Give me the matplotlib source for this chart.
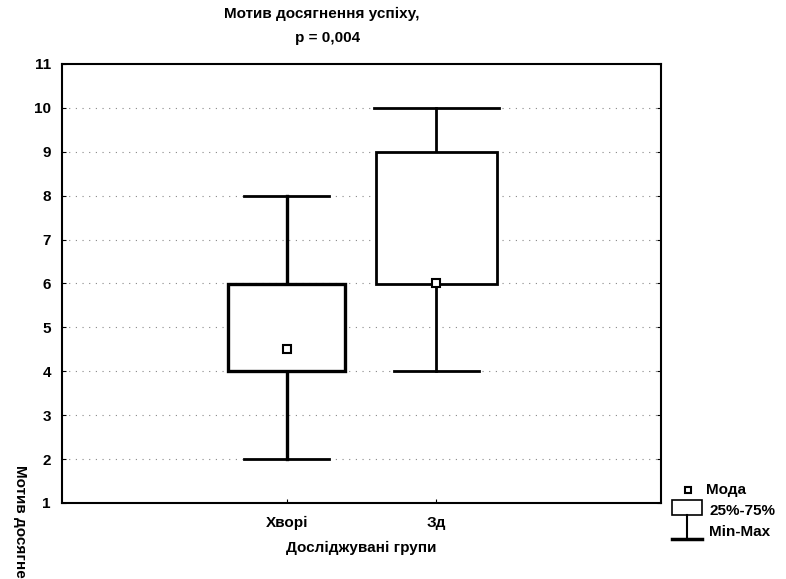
import matplotlib
matplotlib.use('Agg')
import matplotlib.pyplot as plt
from matplotlib.lines import Line2D
from matplotlib.patches import Rectangle

plt.rcParams['font.family'] = ['Liberation Sans', 'DejaVu Sans']
plt.rcParams['font.weight'] = 'bold'

GROUPS = ['Хворі', 'Зд']
MINS = [2, 4]
Q1 = [4, 6]
Q3 = [6, 9]
MAXS = [8, 10]
MODES = [4.5, 6]
YTICKS = list(range(1, 12))

W, H = 786, 579
FS = 11

def fx(px):
    return px / W

def fy(py):
    return 1 - py / H

fig = plt.figure(figsize=(W / 100, H / 100), dpi=100)
ax = fig.add_axes([fx(62), fy(503), fx(661) - fx(62), fy(64) - fy(503)])

pos = [1, 2]
box_w = [0.78, 0.81]
cap_lo = [0.57, 0.57]
cap_hi = [0.57, 0.83]
lw_box = [2.4, 2.0]

for y in YTICKS[1:-1]:
    ax.axhline(y, color='#888888', lw=0.8, ls=(0, (1, 5)), zorder=1)

for i, x in enumerate(pos):
    # whiskers
    ax.plot([x, x], [MINS[i], Q1[i]], color='black', lw=lw_box[i], zorder=2)
    ax.plot([x, x], [Q3[i], MAXS[i]], color='black', lw=lw_box[i], zorder=2)
    ax.plot([x - cap_lo[i] / 2, x + cap_lo[i] / 2], [MINS[i]] * 2, color='black', lw=2, zorder=2)
    ax.plot([x - cap_hi[i] / 2, x + cap_hi[i] / 2], [MAXS[i]] * 2, color='black', lw=2, zorder=2)
    ax.add_patch(Rectangle((x - box_w[i] / 2, Q1[i]), box_w[i], Q3[i] - Q1[i],
                           facecolor='white', edgecolor='black', lw=lw_box[i], zorder=3))
    ax.plot(x, MODES[i], marker='s', ms=6, mfc='white', mec='black', mew=1.5, zorder=4)

ax.set_xlim(-0.5, 3.5)
ax.set_ylim(1, 11)
ax.set_yticks(YTICKS)
ax.set_xticks(pos)
ax.set_xticklabels(GROUPS)
ax.tick_params(direction='in', length=3, labelsize=FS, right=True, top=False)
ax.tick_params(axis='y', pad=8)
ax.tick_params(axis='x', pad=9)
for s in ax.spines.values():
    s.set_linewidth(1.5)
ax.set_xlabel('Досліджувані групи', fontsize=FS, fontweight='bold', labelpad=8)

fig.text(fx(322), fy(14), 'Мотив досягнення успіху,', ha='center', va='center', fontsize=FS)
fig.text(fx(328), fy(38), 'p = 0,004', ha='center', va='center', fontsize=FS)

# y label, cut short as in the reference
fig.text(fx(20), fy(465), 'Мотив досягне', rotation=270, ha='center', va='top',
         fontsize=FS)

# legend drawn by hand
fig.add_artist(Line2D([fx(688)], [fy(490)], marker='s', ms=5, mfc='white', mec='black',
                      mew=1.5, transform=fig.transFigure))
fig.text(fx(706), fy(490), 'Мода', va='center', fontsize=FS)
fig.add_artist(Rectangle((fx(672), fy(515)), fx(702) - fx(672), fy(500) - fy(515),
                         facecolor='white', edgecolor='black', lw=1.2, transform=fig.transFigure))
fig.text(fx(709), fy(511), '25%-75%', va='center', fontsize=FS)
fig.add_artist(Line2D([fx(687), fx(687)], [fy(515), fy(539)], color='black', lw=1.5,
                      transform=fig.transFigure))
fig.add_artist(Line2D([fx(672), fx(702)], [fy(539), fy(539)], color='black', lw=2.5,
                      transform=fig.transFigure))
fig.text(fx(709), fy(532), 'Min-Max', va='center', fontsize=FS)

fig.savefig('out.png', dpi=100)
plt.close()
